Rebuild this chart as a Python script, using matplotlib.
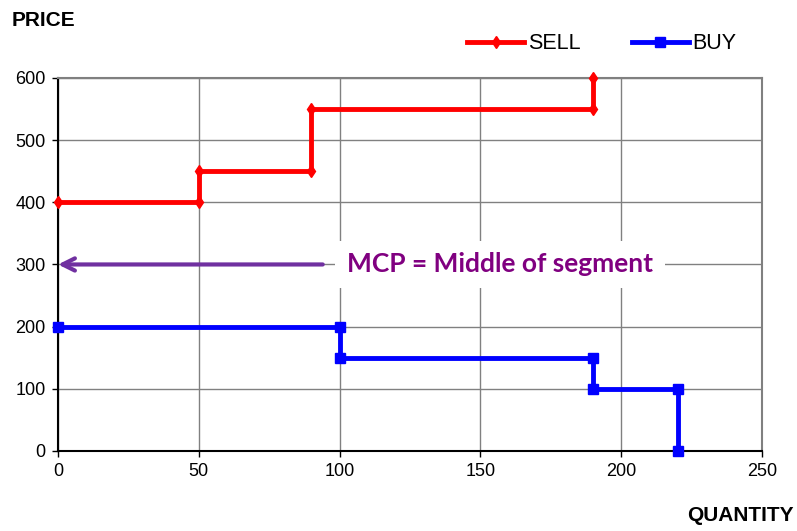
import matplotlib
matplotlib.use("Agg")
import matplotlib.pyplot as plt

sell_q = [0, 50, 50, 90, 90, 190, 190]
sell_p = [400, 400, 450, 450, 550, 550, 600]
buy_q = [0, 100, 100, 190, 190, 220, 220]
buy_p = [200, 200, 150, 150, 100, 100, 0]
x_ticks = [0, 50, 100, 150, 200, 250]
y_ticks = [0, 100, 200, 300, 400, 500, 600]
mcp_price = 300
arrow_start = 94
annotation = "MCP = Middle of segment"

plt.rcParams['font.family'] = ['Liberation Sans', 'DejaVu Sans']

fig = plt.figure(figsize=(7.97, 5.31), dpi=100)
ax = fig.add_axes([0.0728, 0.1507, 0.8833, 0.7025])

ax.set_xlim(0, 250)
ax.set_ylim(0, 600)
ax.set_xticks(x_ticks)
ax.set_yticks(y_ticks)
ax.grid(True, color='#808080', linewidth=1.0)
ax.set_axisbelow(True)

for s in ['top', 'right']:
    ax.spines[s].set_color('#808080')
    ax.spines[s].set_linewidth(1.5)
for s in ['left', 'bottom']:
    ax.spines[s].set_color('black')
    ax.spines[s].set_linewidth(1.5)

ax.tick_params(axis='both', direction='out', length=4, width=1, labelsize=13,
               colors='black', pad=5)

ax.plot(sell_q, sell_p, color='#ff0000', linewidth=3.5, marker='d',
        markersize=6, label='SELL', clip_on=False, zorder=3)
ax.plot(buy_q, buy_p, color='#0000ff', linewidth=3.5, marker='s',
        markersize=7, label='BUY', clip_on=False, zorder=3)

ax.annotate('', xy=(0, mcp_price), xytext=(arrow_start, mcp_price),
            arrowprops=dict(arrowstyle='->', color='#7030a0', lw=3,
                            mutation_scale=22, shrinkA=0, shrinkB=0), zorder=4)
ax.text(157, mcp_price, annotation, color='#800080', fontsize=19,
        fontweight='bold', family=['Lato', 'DejaVu Sans'], ha='center', va='center',
        bbox=dict(facecolor='white', edgecolor='none', boxstyle='square,pad=0.45'), zorder=4)

fig.text(0.015, 0.962, 'PRICE', fontsize=15, fontweight='bold', ha='left', va='center')
fig.text(0.996, 0.03, 'QUANTITY', fontsize=15, fontweight='bold', ha='right', va='center')

leg = fig.legend(loc='center', bbox_to_anchor=(0.755, 0.918), ncol=2, frameon=False,
                 fontsize=15.5, handlelength=2.65, columnspacing=2.4, handletextpad=0.15)

fig.savefig('out.png', dpi=100)
